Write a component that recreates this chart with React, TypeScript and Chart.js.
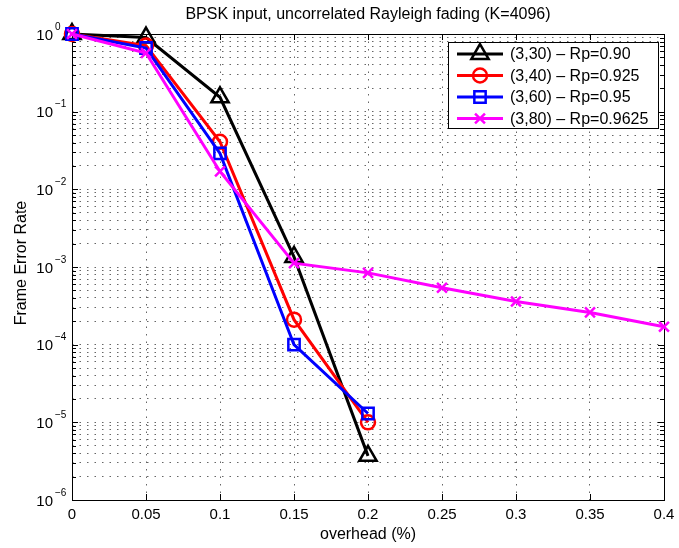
import React, { useEffect, useRef } from "react";
import { Chart, registerables } from "chart.js";

Chart.register(...registerables);

const X_VALUES = [0, 0.05, 0.1, 0.15, 0.2, 0.25, 0.3, 0.35, 0.4];
const X_TICK_LABELS = ["0", "0.05", "0.1", "0.15", "0.2", "0.25", "0.3", "0.35", "0.4"];
const Y_EXPONENTS = [0, -1, -2, -3, -4, -5, -6];

const TITLE = "BPSK input, uncorrelated Rayleigh fading (K=4096)";
const X_LABEL = "overhead (%)";
const Y_LABEL = "Frame Error Rate";

const SERIES_LABELS = [
  "(3,30) \u2013 Rp=0.90",
  "(3,40) \u2013 Rp=0.925",
  "(3,60) \u2013 Rp=0.95",
  "(3,80) \u2013 Rp=0.9625",
];
const SERIES_COLORS = ["#000000", "#ff0000", "#0000ff", "#ff00ff"];
const SERIES_MARKERS = ["triangle", "circle", "rect", "crossRot"];
const SERIES_RADII = [10, 7, 8, 7];

const FER_3_30 = [1, 0.9, 0.153, 1.35e-3, 3.7e-6];
const FER_3_40 = [1, 0.71, 0.041, 2.1e-4, 1.0e-5];
const FER_3_60 = [1, 0.66, 0.029, 1.0e-4, 1.3e-5];
const FER_3_80 = [1, 0.57, 0.017, 1.12e-3, 8.4e-4, 5.4e-4, 3.6e-4, 2.6e-4, 1.7e-4];
const SERIES_VALUES = [FER_3_30, FER_3_40, FER_3_60, FER_3_80];

const FONT = "'Liberation Sans', Arial, Helvetica, sans-serif";

const drawMarker = (ctx: CanvasRenderingContext2D, style: string, x: number, y: number, r: number) => {
  ctx.beginPath();
  if (style === "triangle") {
    ctx.moveTo(x, y - r);
    ctx.lineTo(x + Math.cos(Math.PI / 6) * r, y + r / 2);
    ctx.lineTo(x - Math.cos(Math.PI / 6) * r, y + r / 2);
    ctx.closePath();
  } else if (style === "circle") {
    ctx.arc(x, y, r, 0, Math.PI * 2);
  } else if (style === "rect") {
    const s = Math.SQRT1_2 * r;
    ctx.rect(x - s, y - s, 2 * s, 2 * s);
  } else {
    const o = Math.SQRT1_2 * r;
    ctx.moveTo(x - o, y - o);
    ctx.lineTo(x + o, y + o);
    ctx.moveTo(x + o, y - o);
    ctx.lineTo(x - o, y + o);
  }
  ctx.stroke();
};

const decorPlugin = {
  id: "decor",
  beforeDatasetsDraw(chart: any) {
    const { ctx, chartArea } = chart;
    const { left, right, top, bottom } = chartArea;
    const xs = chart.scales.x;
    const ys = chart.scales.y;
    ctx.save();
    ctx.strokeStyle = "#000";
    ctx.lineWidth = 1;
    ctx.strokeRect(left + 0.5, top + 0.5, right - left, bottom - top);
    ctx.beginPath();
    X_VALUES.forEach((v) => {
      const px = Math.round(xs.getPixelForValue(v)) + 0.5;
      ctx.moveTo(px, bottom);
      ctx.lineTo(px, bottom - 6);
      ctx.moveTo(px, top);
      ctx.lineTo(px, top + 6);
    });
    Y_EXPONENTS.forEach((e) => {
      for (let m = 1; m <= 9; m++) {
        const v = m * Math.pow(10, e);
        if (v > 1.0000001 || v < 1e-6 * 0.999) continue;
        const py = Math.round(ys.getPixelForValue(v)) + 0.5;
        const len = m === 1 ? 6 : 4;
        ctx.moveTo(left, py);
        ctx.lineTo(left + len, py);
        ctx.moveTo(right, py);
        ctx.lineTo(right - len, py);
      }
    });
    ctx.stroke();

    ctx.fillStyle = "#000";
    ctx.font = `15px ${FONT}`;
    ctx.textAlign = "center";
    ctx.textBaseline = "middle";
    X_VALUES.forEach((v, i) => {
      ctx.fillText(X_TICK_LABELS[i], xs.getPixelForValue(v), bottom + 15);
    });
    Y_EXPONENTS.forEach((e) => {
      const py = ys.getPixelForValue(Math.pow(10, e));
      ctx.font = `15px ${FONT}`;
      ctx.textAlign = "right";
      ctx.fillText("10", 53, py + 1.5);
      ctx.font = `10px ${FONT}`;
      ctx.textAlign = "left";
      const exp = e === 0 ? "0" : "\u2212" + String(-e);
      ctx.fillText(exp, 55, py - 7);
    });

    ctx.font = `16px ${FONT}`;
    ctx.textAlign = "center";
    ctx.fillText(TITLE, (left + right) / 2, 15);
    ctx.fillText(X_LABEL, (left + right) / 2, 535);
    ctx.save();
    ctx.translate(22, (top + bottom) / 2 - 4);
    ctx.rotate(-Math.PI / 2);
    ctx.fillText(Y_LABEL, 0, 0);
    ctx.restore();
    ctx.restore();
  },
  afterDatasetsDraw(chart: any) {
    const { ctx } = chart;
    ctx.save();
    const bx = 448, by = 42, bw = 210, bh = 86;
    ctx.fillStyle = "#fff";
    ctx.fillRect(bx, by, bw, bh);
    ctx.strokeStyle = "#000";
    ctx.lineWidth = 1;
    ctx.strokeRect(bx + 0.5, by + 0.5, bw, bh);
    SERIES_LABELS.forEach((label, i) => {
      const y = 54 + i * 21.5;
      ctx.strokeStyle = SERIES_COLORS[i];
      ctx.lineWidth = 3;
      ctx.beginPath();
      ctx.moveTo(457, y);
      ctx.lineTo(503, y);
      ctx.stroke();
      ctx.lineWidth = 2.5;
      drawMarker(ctx, SERIES_MARKERS[i], 480, y, SERIES_RADII[i]);
      ctx.fillStyle = "#000";
      ctx.font = `16px ${FONT}`;
      ctx.textAlign = "left";
      ctx.textBaseline = "middle";
      ctx.fillText(label, 510, y + 1);
    });
    ctx.restore();
  },
};

export default function App() {
  const canvasRef = useRef<HTMLCanvasElement | null>(null);

  useEffect(() => {
    document.body.style.margin = "0";
    const canvas = canvasRef.current;
    if (!canvas) return;
    const datasets = SERIES_VALUES.map((vals, i) => ({
      label: SERIES_LABELS[i],
      data: vals.map((v, j) => ({ x: X_VALUES[j], y: v })),
      borderColor: SERIES_COLORS[i],
      backgroundColor: "rgba(0,0,0,0)",
      borderWidth: 3,
      pointStyle: SERIES_MARKERS[i] as any,
      pointRadius: SERIES_RADII[i],
      pointBorderWidth: 2.5,
      pointBorderColor: SERIES_COLORS[i],
      pointBackgroundColor: "rgba(0,0,0,0)",
      tension: 0,
      clip: false as any,
      order: SERIES_VALUES.length - i,
    }));
    const chart = new Chart(canvas, {
      type: "line",
      data: { datasets },
      options: {
        animation: false,
        responsive: false,
        layout: { padding: { top: 34, right: 15, left: 0, bottom: 0 } },
        plugins: { legend: { display: false }, tooltip: { enabled: false }, title: { display: false } },
        scales: {
          x: {
            type: "linear",
            min: 0,
            max: 0.4,
            afterBuildTicks: (s: any) => {
              s.ticks = X_VALUES.map((v) => ({ value: v }));
            },
            afterFit: (s: any) => {
              s.height = 48;
            },
            ticks: { display: false },
            grid: { color: "#666", lineWidth: 1, drawTicks: false },
            border: { display: false, dash: [1.5, 6] },
          },
          y: {
            type: "logarithmic",
            min: 1e-6,
            max: 1,
            afterBuildTicks: (s: any) => {
              const t: any[] = [];
              Y_EXPONENTS.forEach((e) => {
                for (let m = 1; m <= 9; m++) {
                  const v = m * Math.pow(10, e);
                  if (v <= 1.0000001 && v >= 0.999e-6) t.push({ value: v });
                }
              });
              s.ticks = t;
            },
            afterFit: (s: any) => {
              s.width = 72;
            },
            ticks: { display: false },
            grid: { color: "#666", lineWidth: 1, drawTicks: false },
            border: { display: false, dash: [1.5, 6] },
          },
        },
      },
      plugins: [decorPlugin],
    });
    return () => chart.destroy();
  }, []);

  return (
    <div style={{ position: "absolute", left: 0, top: 0, width: 679, height: 548 }}>
      <canvas ref={canvasRef} width={679} height={548} style={{ width: 679, height: 548 }} />
    </div>
  );
}
